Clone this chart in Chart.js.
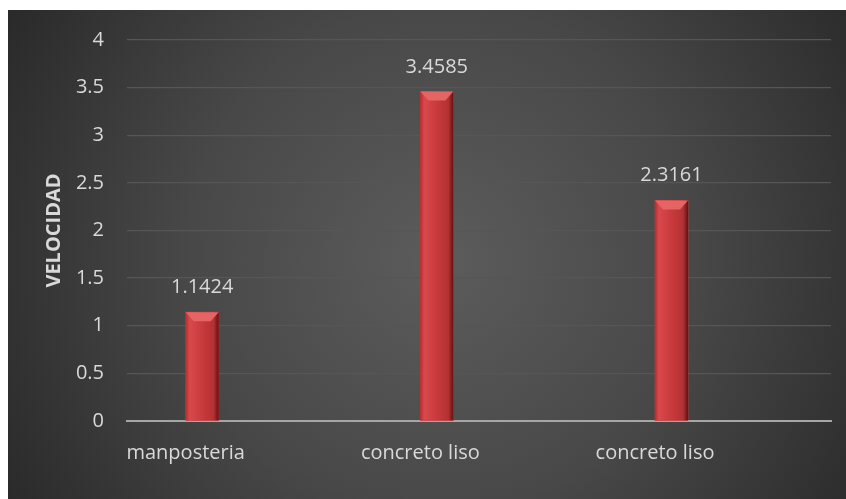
<!DOCTYPE html>
<html>
<head>
<meta charset="utf-8">
<script src="https://cdn.jsdelivr.net/npm/chart.js@4/dist/chart.umd.min.js"></script>
<style>
  html, body { margin: 0; padding: 0; background: #fff; }
  #wrap { width: 846px; height: 499px; position: relative; }
</style>
</head>
<body>
<div id="wrap"><canvas id="velocidad"></canvas></div>
<script>
// datos del grafico
var categories = ['manposteria', 'concreto liso', 'concreto liso'];
var velocidad = [1.1424, 3.4585, 2.3161];
var emptySeries = [null, null, null];
var yTitle = 'VELOCIDAD';

var fontFamily = '"Open Sans", "DejaVu Sans", sans-serif';
var textColor = '#d9d9d9';

// fondo oscuro con degradado radial
var backgroundPlugin = {
    id: 'fondo',
    beforeDraw: function(chart) {
        var ctx = chart.ctx;
        ctx.save();
        ctx.fillStyle = '#ffffff';
        ctx.fillRect(0, 0, chart.width, chart.height);
        var g = ctx.createRadialGradient(440, 260, 0, 440, 260, 560);
        g.addColorStop(0, '#5c5c5c');
        g.addColorStop(0.45, '#484848');
        g.addColorStop(1, '#222222');
        ctx.fillStyle = g;
        ctx.fillRect(8, 10, chart.width - 8, chart.height - 10);
        ctx.restore();
    }
};

// sombreado de las barras y etiquetas de valores
var barsPlugin = {
    id: 'barras',
    afterDatasetsDraw: function(chart) {
        var ctx = chart.ctx;
        var meta = chart.getDatasetMeta(1);
        ctx.save();
        meta.data.forEach(function(bar, i) {
            var p = bar.getProps(['x', 'y', 'base', 'width'], true);
            var left = p.x - p.width / 2;
            var right = p.x + p.width / 2;
            var g = ctx.createLinearGradient(left, 0, right, 0);
            g.addColorStop(0, '#b52e30');
            g.addColorStop(0.12, '#d9494b');
            g.addColorStop(0.5, '#c93a3c');
            g.addColorStop(0.85, '#b33133');
            g.addColorStop(1, '#5e1212');
            ctx.fillStyle = g;
            ctx.fillRect(left, p.y, p.width, p.base - p.y);
            // bisel superior
            ctx.beginPath();
            ctx.moveTo(left, p.y);
            ctx.lineTo(right, p.y);
            ctx.lineTo(right - 8, p.y + 9);
            ctx.lineTo(left + 8, p.y + 9);
            ctx.closePath();
            ctx.fillStyle = '#e56464';
            ctx.fill();
            // valor
            ctx.fillStyle = textColor;
            ctx.font = '20px ' + fontFamily;
            ctx.textAlign = 'center';
            ctx.textBaseline = 'alphabetic';
            ctx.fillText(String(velocidad[i]), p.x, p.y - 19);
        });
        ctx.restore();
    }
};

var config = {
    type: 'bar',
    data: {
        labels: categories.map(function(c, i) { return i; }),
        datasets: [
            {
                label: '',
                data: emptySeries,
                backgroundColor: 'transparent'
            },
            {
                label: yTitle,
                data: velocidad,
                backgroundColor: '#c8393b',
                borderWidth: 0
            }
        ]
    },
    options: {
        responsive: false,
        animation: false,
        barThickness: 33,
        layout: { padding: { left: 8, right: 15, top: 40, bottom: 0 } },
        plugins: {
            legend: { display: false },
            tooltip: { enabled: false }
        },
        scales: {
            x: {
                type: 'linear',
                min: -0.25,
                max: 2.75,
                offset: false,
                grid: { display: false, drawTicks: false, offset: false },
                border: { display: true, color: '#a6a6a6', width: 2 },
                afterBuildTicks: function(scale) {
                    scale.ticks = categories.map(function(c, i) { return { value: i }; });
                },
                ticks: {
                    color: textColor,
                    padding: 20,
                    autoSkip: false,
                    maxRotation: 0,
                    font: { family: fontFamily, size: 20 },
                    callback: function(value) {
                        return categories[value] || '';
                    }
                },
                afterFit: function(scale) { scale.height = 78; }
            },
            y: {
                min: 0,
                max: 4,
                grid: { color: '#565656', lineWidth: 1.3, drawTicks: false },
                border: { display: false },
                ticks: {
                    stepSize: 0.5,
                    color: textColor,
                    padding: 23,
                    font: { family: fontFamily, size: 20 },
                    callback: function(value) { return String(value); }
                },
                title: {
                    display: true,
                    text: yTitle,
                    color: textColor,
                    font: { family: fontFamily, size: 20, weight: 'bold' },
                    padding: { top: 34, bottom: 0 }
                },
                afterFit: function(scale) { scale.width = 119; }
            }
        }
    },
    plugins: [backgroundPlugin, barsPlugin]
};

var canvas = document.getElementById('velocidad');
canvas.width = 846;
canvas.height = 499;
var myChart = new Chart(canvas.getContext('2d'), config);
</script>
</body>
</html>
